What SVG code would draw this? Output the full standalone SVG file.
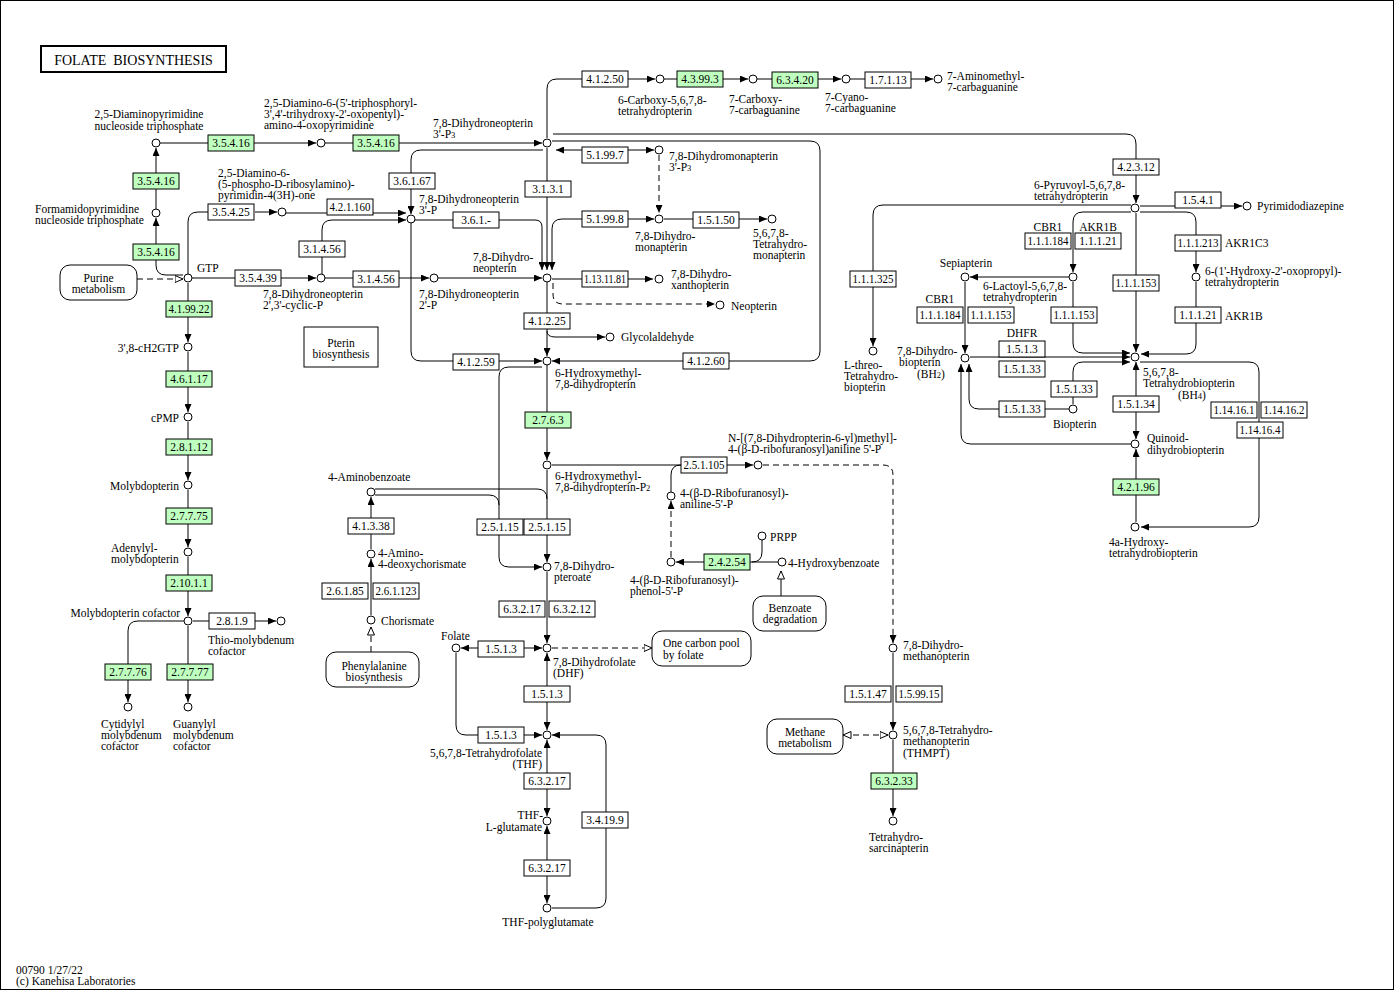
<svg xmlns="http://www.w3.org/2000/svg" width="1395" height="991" viewBox="0 0 1395 991">
<defs>
<style>
text{font-family:"Liberation Serif","Times New Roman",serif;font-size:11.5px;fill:#000}
.ln{fill:none;stroke:#000;stroke-width:1}
.da{stroke-dasharray:6 4}
.enz rect{fill:#fff;stroke:#000;stroke-width:1}
.enz.g rect{fill:#bfffbf}
.enz text{text-anchor:middle}
.cpd circle{fill:#fff;stroke:#000;stroke-width:1}
.map rect{fill:#fff;stroke:#000;stroke-width:1}
.map text{text-anchor:middle}
.sub{font-size:8.5px}
.m{text-anchor:middle}
.e{text-anchor:end}
</style>
<marker id="a" viewBox="0 0 8 7" refX="8" refY="3.5" markerWidth="8" markerHeight="7" markerUnits="userSpaceOnUse" orient="auto-start-reverse"><path d="M0,0L8,3.5L0,7z" fill="#000"/></marker>
<marker id="h" viewBox="0 0 9 8" refX="8.5" refY="4" markerWidth="9" markerHeight="8" markerUnits="userSpaceOnUse" orient="auto-start-reverse"><path d="M0.5,0.5L8.5,4L0.5,7.5z" fill="#fff" stroke="#000"/></marker>
</defs>
<rect x="0.5" y="0.5" width="1393" height="989" fill="#fff" stroke="#000"/>
<g id="title"><rect x="41" y="46" width="185" height="26" fill="#fff" stroke="#000" stroke-width="2"/><text x="133.5" y="65" class="m" style="font-size:14px">FOLATE&#160; BIOSYNTHESIS</text></g>

<g id="connectors">
<path class="ln" d="M156,209V148" marker-end="url(#a)"/>
<path class="ln" d="M183,275H166Q156,275 156,265V218" marker-end="url(#a)"/>
<path class="ln" d="M160,143H316" marker-end="url(#a)"/>
<path class="ln" d="M325,143H542" marker-end="url(#a)"/>
<path class="ln da" d="M137,279H183" marker-end="url(#h)"/>
<path class="ln" d="M188,274V222Q188,212 198,212H208"/>
<path class="ln" d="M255,212H277" marker-end="url(#a)"/>
<path class="ln" d="M286,213H406" marker-end="url(#a)"/>
<path class="ln" d="M322,241V230Q322,220 332,220H406" marker-end="url(#a)"/>
<path class="ln" d="M322,257V274"/>
<path class="ln" d="M192,278H316" marker-end="url(#a)"/>
<path class="ln" d="M325,278H429" marker-end="url(#a)"/>
<path class="ln" d="M438,278H542" marker-end="url(#a)"/>
<path class="ln" d="M543,150H421Q411,150 411,160V173"/>
<path class="ln" d="M411,189V214" marker-end="url(#a)"/>
<path class="ln" d="M415,220H535Q542,220 542,227V270" marker-end="url(#a)"/>
<path class="ln" d="M547,148V270" marker-end="url(#a)"/>
<path class="ln" d="M582,219H562Q552,219 552,229V270" marker-end="url(#a)"/>
<path class="ln" d="M627,219H654" marker-end="url(#a)"/>
<path class="ln" d="M556,150H654" marker-start="url(#a)" marker-end="url(#a)"/>
<path class="ln da" d="M659,155V213" marker-end="url(#a)"/>
<path class="ln" d="M664,219H767" marker-end="url(#a)"/>
<path class="ln" d="M552,279H653" marker-end="url(#a)"/>
<path class="ln da" d="M553,283V294Q553,304 563,304H715" marker-end="url(#a)"/>
<path class="ln" d="M547,282V356" marker-end="url(#a)"/>
<path class="ln" d="M547,331Q547,337 555,337H605" marker-end="url(#a)"/>
<path class="ln" d="M547,138V89Q547,79 557,79H582"/>
<path class="ln" d="M627,79H655" marker-end="url(#a)"/>
<path class="ln" d="M664,79H677"/>
<path class="ln" d="M722,79H748" marker-end="url(#a)"/>
<path class="ln" d="M757,79H772"/>
<path class="ln" d="M818,79H841" marker-end="url(#a)"/>
<path class="ln" d="M850,79H865"/>
<path class="ln" d="M911,79H933" marker-end="url(#a)"/>
<path class="ln" d="M553,134H1126Q1136,134 1136,144V159"/>
<path class="ln" d="M1136,175V203" marker-end="url(#a)"/>
<path class="ln" d="M552,141H810Q820,141 820,151V351Q820,361 810,361H552" marker-end="url(#a)"/>
<path class="ln" d="M411,223V351Q411,361 421,361H542" marker-end="url(#a)"/>
<path class="ln" d="M547,365V460" marker-end="url(#a)"/>
<path class="ln" d="M542,367H509Q499,367 499,377V557Q499,567 509,567H542" marker-end="url(#a)"/>
<path class="ln" d="M547,470V562" marker-end="url(#a)"/>
<path class="ln" d="M375,489H537Q547,489 547,499"/>
<path class="ln" d="M375,495H489Q499,495 499,505"/>
<path class="ln" d="M552,465H753" marker-end="url(#a)"/>
<path class="ln" d="M671,492V475Q671,465 681,465"/>
<path class="ln da" d="M763,465H883Q893,465 893,475V643" marker-end="url(#a)"/>
<path class="ln da" d="M671,557V501" marker-end="url(#a)"/>
<path class="ln" d="M778,562H676" marker-end="url(#a)"/>
<path class="ln" d="M762,540V552Q762,562 752,562"/>
<path class="ln" d="M781,596V571" marker-end="url(#h)"/>
<path class="ln" d="M371,615V559" marker-end="url(#a)"/>
<path class="ln" d="M371,549V497" marker-end="url(#a)"/>
<path class="ln da" d="M371,652V627" marker-end="url(#h)"/>
<path class="ln" d="M547,572V643" marker-end="url(#a)"/>
<path class="ln" d="M461,648H542" marker-start="url(#a)" marker-end="url(#a)"/>
<path class="ln da" d="M552,648H652" marker-end="url(#h)"/>
<path class="ln" d="M547,653V730" marker-start="url(#a)" marker-end="url(#a)"/>
<path class="ln" d="M456,653V725Q456,735 466,735H542" marker-end="url(#a)"/>
<path class="ln" d="M547,740V816" marker-start="url(#a)" marker-end="url(#a)"/>
<path class="ln" d="M547,826V903" marker-start="url(#a)" marker-end="url(#a)"/>
<path class="ln" d="M552,908H596Q606,908 606,898V745Q606,735 596,735H552" marker-end="url(#a)"/>
<path class="ln" d="M893,653V730" marker-end="url(#a)"/>
<path class="ln da" d="M843,735H888" marker-start="url(#h)" marker-end="url(#h)"/>
<path class="ln" d="M893,740V816" marker-end="url(#a)"/>
<path class="ln" d="M188,283V342" marker-end="url(#a)"/>
<path class="ln" d="M188,352V412" marker-end="url(#a)"/>
<path class="ln" d="M188,422V480" marker-end="url(#a)"/>
<path class="ln" d="M188,490V547" marker-end="url(#a)"/>
<path class="ln" d="M188,557V616" marker-end="url(#a)"/>
<path class="ln" d="M193,621H276" marker-end="url(#a)"/>
<path class="ln" d="M188,626V702" marker-end="url(#a)"/>
<path class="ln" d="M184,621H138Q128,621 128,631V702" marker-end="url(#a)"/>
<path class="ln" d="M1131,205H883Q873,205 873,215V346" marker-end="url(#a)"/>
<path class="ln" d="M1131,212H1083Q1073,212 1073,222V272" marker-end="url(#a)"/>
<path class="ln" d="M1140,212H1186Q1196,212 1196,222V272" marker-end="url(#a)"/>
<path class="ln" d="M1136,213V352" marker-end="url(#a)"/>
<path class="ln" d="M1140,206H1242" marker-end="url(#a)"/>
<path class="ln" d="M1069,277H970" marker-end="url(#a)"/>
<path class="ln" d="M1073,282V343Q1073,353 1083,353H1130" marker-end="url(#a)"/>
<path class="ln" d="M965,282V353" marker-end="url(#a)"/>
<path class="ln" d="M970,357H1130" marker-end="url(#a)"/>
<path class="ln" d="M1073,404V372Q1073,362 1083,362H1130" marker-end="url(#a)"/>
<path class="ln" d="M1069,409H979Q969,409 969,399V364" marker-end="url(#a)"/>
<path class="ln" d="M1131,444H971Q961,444 961,434V364" marker-end="url(#a)"/>
<path class="ln" d="M1196,282V344Q1196,354 1186,354H1141" marker-end="url(#a)"/>
<path class="ln" d="M1136,362V439" marker-start="url(#a)" marker-end="url(#a)"/>
<path class="ln" d="M1136,522V449" marker-end="url(#a)"/>
<path class="ln" d="M1140,362H1249Q1259,362 1259,372V517Q1259,527 1249,527H1141" marker-end="url(#a)"/>
</g>

<g id="maps">
<g id="m_purine" class="map"><rect x="60" y="265" width="77" height="35" rx="10"/><text x="98.5" y="282">Purine</text><text x="98.5" y="293">metabolism</text></g>
<g id="m_pterin" class="map"><rect x="304" y="327" width="74" height="40"/><text x="341" y="347">Pterin</text><text x="341" y="358">biosynthesis</text></g>
<g id="m_phe" class="map"><rect x="326" y="652" width="93" height="35" rx="10"/><text x="374" y="670">Phenylalanine</text><text x="374" y="681">biosynthesis</text></g>
<g id="m_onec" class="map"><rect x="652" y="631" width="99" height="35" rx="10"/><text x="663" y="647" style="text-anchor:start">One carbon pool</text><text x="663" y="659" style="text-anchor:start">by folate</text></g>
<g id="m_benz" class="map"><rect x="753" y="596" width="73" height="35" rx="10"/><text x="790" y="612">Benzoate</text><text x="790" y="623">degradation</text></g>
<g id="m_meth" class="map"><rect x="767" y="719" width="76" height="35" rx="10"/><text x="805" y="736">Methane</text><text x="805" y="747">metabolism</text></g>
</g>

<g id="enzymes">
<g id="e1" class="enz g"><rect x="208" y="135" width="46" height="16"/><text x="231" y="147">3.5.4.16</text></g>
<g id="e2" class="enz g"><rect x="353" y="135" width="46" height="16"/><text x="376" y="147">3.5.4.16</text></g>
<g id="e3" class="enz g"><rect x="133" y="173" width="46" height="16"/><text x="156" y="185">3.5.4.16</text></g>
<g id="e4" class="enz g"><rect x="133" y="244" width="46" height="16"/><text x="156" y="256">3.5.4.16</text></g>
<g id="e5" class="enz g"><rect x="166" y="301" width="46" height="16"/><text x="189" y="313" textLength="41" lengthAdjust="spacingAndGlyphs">4.1.99.22</text></g>
<g id="e6" class="enz g"><rect x="166" y="371" width="46" height="16"/><text x="189" y="383">4.6.1.17</text></g>
<g id="e7" class="enz g"><rect x="166" y="439" width="46" height="16"/><text x="189" y="451">2.8.1.12</text></g>
<g id="e8" class="enz g"><rect x="166" y="508" width="46" height="16"/><text x="189" y="520">2.7.7.75</text></g>
<g id="e9" class="enz g"><rect x="166" y="575" width="46" height="16"/><text x="189" y="587">2.10.1.1</text></g>
<g id="e10" class="enz g"><rect x="105" y="664" width="46" height="16"/><text x="128" y="676">2.7.7.76</text></g>
<g id="e11" class="enz g"><rect x="167" y="664" width="46" height="16"/><text x="190" y="676">2.7.7.77</text></g>
<g id="e12" class="enz"><rect x="208" y="204" width="46" height="16"/><text x="231" y="216">3.5.4.25</text></g>
<g id="e13" class="enz"><rect x="327" y="199" width="46" height="16"/><text x="350" y="211" textLength="41" lengthAdjust="spacingAndGlyphs">4.2.1.160</text></g>
<g id="e14" class="enz"><rect x="299" y="241" width="46" height="16"/><text x="322" y="253">3.1.4.56</text></g>
<g id="e15" class="enz"><rect x="235" y="270" width="46" height="16"/><text x="258" y="282">3.5.4.39</text></g>
<g id="e16" class="enz"><rect x="353" y="271" width="46" height="16"/><text x="376" y="283">3.1.4.56</text></g>
<g id="e17" class="enz"><rect x="389" y="173" width="46" height="16"/><text x="412" y="185">3.6.1.67</text></g>
<g id="e18" class="enz"><rect x="453" y="212" width="46" height="16"/><text x="476" y="224">3.6.1.-</text></g>
<g id="e19" class="enz"><rect x="525" y="181" width="46" height="16"/><text x="548" y="193">3.1.3.1</text></g>
<g id="e20" class="enz"><rect x="582" y="71" width="46" height="16"/><text x="605" y="83">4.1.2.50</text></g>
<g id="e21" class="enz g"><rect x="677" y="71" width="46" height="16"/><text x="700" y="83">4.3.99.3</text></g>
<g id="e22" class="enz g"><rect x="772" y="72" width="46" height="16"/><text x="795" y="84">6.3.4.20</text></g>
<g id="e23" class="enz"><rect x="865" y="72" width="46" height="16"/><text x="888" y="84">1.7.1.13</text></g>
<g id="e24" class="enz"><rect x="582" y="147" width="46" height="16"/><text x="605" y="159">5.1.99.7</text></g>
<g id="e25" class="enz"><rect x="582" y="211" width="46" height="16"/><text x="605" y="223">5.1.99.8</text></g>
<g id="e26" class="enz"><rect x="693" y="212" width="46" height="16"/><text x="716" y="224">1.5.1.50</text></g>
<g id="e27" class="enz"><rect x="582" y="271" width="46" height="16"/><text x="605" y="283" textLength="42" lengthAdjust="spacingAndGlyphs">1.13.11.81</text></g>
<g id="e28" class="enz"><rect x="524" y="313" width="46" height="16"/><text x="547" y="325">4.1.2.25</text></g>
<g id="e29" class="enz"><rect x="453" y="354" width="46" height="16"/><text x="476" y="366">4.1.2.59</text></g>
<g id="e30" class="enz"><rect x="683" y="353" width="46" height="16"/><text x="706" y="365">4.1.2.60</text></g>
<g id="e31" class="enz g"><rect x="525" y="412" width="46" height="16"/><text x="548" y="424">2.7.6.3</text></g>
<g id="e32" class="enz"><rect x="681" y="457" width="46" height="16"/><text x="704" y="469" textLength="41" lengthAdjust="spacingAndGlyphs">2.5.1.105</text></g>
<g id="e33" class="enz"><rect x="348" y="518" width="46" height="16"/><text x="371" y="530">4.1.3.38</text></g>
<g id="e34" class="enz"><rect x="477" y="519" width="46" height="16"/><text x="500" y="531">2.5.1.15</text></g>
<g id="e35" class="enz"><rect x="524" y="519" width="46" height="16"/><text x="547" y="531">2.5.1.15</text></g>
<g id="e36" class="enz"><rect x="322" y="583" width="46" height="16"/><text x="345" y="595">2.6.1.85</text></g>
<g id="e37" class="enz"><rect x="373" y="583" width="46" height="16"/><text x="396" y="595" textLength="41" lengthAdjust="spacingAndGlyphs">2.6.1.123</text></g>
<g id="e38" class="enz"><rect x="499" y="601" width="46" height="16"/><text x="522" y="613">6.3.2.17</text></g>
<g id="e39" class="enz"><rect x="549" y="601" width="46" height="16"/><text x="572" y="613">6.3.2.12</text></g>
<g id="e40" class="enz g"><rect x="704" y="554" width="46" height="16"/><text x="727" y="566">2.4.2.54</text></g>
<g id="e41" class="enz"><rect x="478" y="641" width="46" height="16"/><text x="501" y="653">1.5.1.3</text></g>
<g id="e42" class="enz"><rect x="524" y="686" width="46" height="16"/><text x="547" y="698">1.5.1.3</text></g>
<g id="e43" class="enz"><rect x="478" y="727" width="46" height="16"/><text x="501" y="739">1.5.1.3</text></g>
<g id="e44" class="enz"><rect x="524" y="773" width="46" height="16"/><text x="547" y="785">6.3.2.17</text></g>
<g id="e45" class="enz"><rect x="582" y="812" width="46" height="16"/><text x="605" y="824">3.4.19.9</text></g>
<g id="e46" class="enz"><rect x="524" y="860" width="46" height="16"/><text x="547" y="872">6.3.2.17</text></g>
<g id="e47" class="enz"><rect x="845" y="686" width="46" height="16"/><text x="868" y="698">1.5.1.47</text></g>
<g id="e48" class="enz"><rect x="896" y="686" width="46" height="16"/><text x="919" y="698" textLength="41" lengthAdjust="spacingAndGlyphs">1.5.99.15</text></g>
<g id="e49" class="enz g"><rect x="871" y="773" width="46" height="16"/><text x="894" y="785">6.3.2.33</text></g>
<g id="e50" class="enz"><rect x="209" y="613" width="46" height="16"/><text x="232" y="625">2.8.1.9</text></g>
<g id="e51" class="enz"><rect x="1113" y="159" width="46" height="16"/><text x="1136" y="171">4.2.3.12</text></g>
<g id="e52" class="enz"><rect x="1175" y="192" width="46" height="16"/><text x="1198" y="204">1.5.4.1</text></g>
<g id="e53" class="enz"><rect x="1025" y="233" width="46" height="16"/><text x="1048" y="245" textLength="41" lengthAdjust="spacingAndGlyphs">1.1.1.184</text></g>
<g id="e54" class="enz"><rect x="1075" y="233" width="46" height="16"/><text x="1098" y="245">1.1.1.21</text></g>
<g id="e55" class="enz"><rect x="1175" y="235" width="46" height="16"/><text x="1198" y="247" textLength="41" lengthAdjust="spacingAndGlyphs">1.1.1.213</text></g>
<g id="e56" class="enz"><rect x="1113" y="275" width="46" height="16"/><text x="1136" y="287" textLength="41" lengthAdjust="spacingAndGlyphs">1.1.1.153</text></g>
<g id="e57" class="enz"><rect x="1051" y="307" width="46" height="16"/><text x="1074" y="319" textLength="41" lengthAdjust="spacingAndGlyphs">1.1.1.153</text></g>
<g id="e58" class="enz"><rect x="1175" y="307" width="46" height="16"/><text x="1198" y="319">1.1.1.21</text></g>
<g id="e59" class="enz"><rect x="850" y="271" width="46" height="16"/><text x="873" y="283" textLength="41" lengthAdjust="spacingAndGlyphs">1.1.1.325</text></g>
<g id="e60" class="enz"><rect x="917" y="307" width="46" height="16"/><text x="940" y="319" textLength="41" lengthAdjust="spacingAndGlyphs">1.1.1.184</text></g>
<g id="e61" class="enz"><rect x="968" y="307" width="46" height="16"/><text x="991" y="319" textLength="41" lengthAdjust="spacingAndGlyphs">1.1.1.153</text></g>
<g id="e62" class="enz"><rect x="999" y="341" width="46" height="16"/><text x="1022" y="353">1.5.1.3</text></g>
<g id="e63" class="enz"><rect x="999" y="361" width="46" height="16"/><text x="1022" y="373">1.5.1.33</text></g>
<g id="e64" class="enz"><rect x="1051" y="381" width="46" height="16"/><text x="1074" y="393">1.5.1.33</text></g>
<g id="e65" class="enz"><rect x="999" y="401" width="46" height="16"/><text x="1022" y="413">1.5.1.33</text></g>
<g id="e66" class="enz"><rect x="1113" y="396" width="46" height="16"/><text x="1136" y="408">1.5.1.34</text></g>
<g id="e67" class="enz"><rect x="1211" y="402" width="46" height="16"/><text x="1234" y="414" textLength="41" lengthAdjust="spacingAndGlyphs">1.14.16.1</text></g>
<g id="e68" class="enz"><rect x="1261" y="402" width="46" height="16"/><text x="1284" y="414" textLength="41" lengthAdjust="spacingAndGlyphs">1.14.16.2</text></g>
<g id="e69" class="enz"><rect x="1237" y="422" width="46" height="16"/><text x="1260" y="434" textLength="41" lengthAdjust="spacingAndGlyphs">1.14.16.4</text></g>
<g id="e70" class="enz g"><rect x="1113" y="479" width="46" height="16"/><text x="1136" y="491">4.2.1.96</text></g>
</g>

<g id="genes">
<text x="1048" y="231" class="m">CBR1</text>
<text x="1098" y="231" class="m">AKR1B</text>
<text x="1225" y="247">AKR1C3</text>
<text x="1225" y="320">AKR1B</text>
<text x="940" y="303" class="m">CBR1</text>
<text x="1022" y="337" class="m">DHFR</text>
</g>

<g id="compounds">
<g id="n_dapy" class="cpd"><circle cx="156" cy="143" r="4"/><text x="149" y="118" class="m">2,5-Diaminopyrimidine</text><text x="149" y="130" class="m">nucleoside triphosphate</text></g>
<g id="n_dtpo" class="cpd"><circle cx="321" cy="143" r="4"/><text x="264" y="107">2,5-Diamino-6-(5'-triphosphoryl-</text><text x="264" y="118">3',4'-trihydroxy-2'-oxopentyl)-</text><text x="264" y="129">amino-4-oxopyrimidine</text></g>
<g id="n_dnp3" class="cpd"><circle cx="547" cy="143" r="4"/><text x="433" y="127">7,8-Dihydroneopterin</text><text x="433" y="138">3'-P<tspan class="sub">3</tspan></text></g>
<g id="n_famp" class="cpd"><circle cx="156" cy="213" r="4"/><text x="35" y="213">Formamidopyrimidine</text><text x="35" y="224">nucleoside triphosphate</text></g>
<g id="n_gtp" class="cpd"><circle cx="188" cy="278" r="4"/><text x="197" y="272">GTP</text></g>
<g id="n_dapr" class="cpd"><circle cx="282" cy="212" r="4"/><text x="218" y="177">2,5-Diamino-6-</text><text x="218" y="188">(5-phospho-D-ribosylamino)-</text><text x="218" y="199">pyrimidin-4(3H)-one</text></g>
<g id="n_dncp" class="cpd"><circle cx="321" cy="278" r="4"/><text x="263" y="298">7,8-Dihydroneopterin</text><text x="263" y="309">2',3'-cyclic-P</text></g>
<g id="n_dn3p" class="cpd"><circle cx="411" cy="219" r="4"/><text x="419" y="203">7,8-Dihydroneopterin</text><text x="419" y="214">3'-P</text></g>
<g id="n_dn2p" class="cpd"><circle cx="434" cy="278" r="4"/><text x="419" y="298">7,8-Dihydroneopterin</text><text x="419" y="309">2'-P</text></g>
<g id="n_dn" class="cpd"><circle cx="547" cy="278" r="4"/><text x="473" y="261">7,8-Dihydro-</text><text x="473" y="272">neopterin</text></g>
<g id="n_dmp3" class="cpd"><circle cx="659" cy="150" r="4"/><text x="669" y="160">7,8-Dihydromonapterin</text><text x="669" y="171">3'-P<tspan class="sub">3</tspan></text></g>
<g id="n_dm" class="cpd"><circle cx="659" cy="219" r="4"/><text x="635" y="240">7,8-Dihydro-</text><text x="635" y="251">monapterin</text></g>
<g id="n_thm" class="cpd"><circle cx="772" cy="219" r="4"/><text x="753" y="237">5,6,7,8-</text><text x="753" y="248">Tetrahydro-</text><text x="753" y="259">monapterin</text></g>
<g id="n_dxp" class="cpd"><circle cx="659" cy="279" r="4"/><text x="671" y="278">7,8-Dihydro-</text><text x="671" y="289">xanthopterin</text></g>
<g id="n_neo" class="cpd"><circle cx="720" cy="305" r="4"/><text x="731" y="310">Neopterin</text></g>
<g id="n_gly" class="cpd"><circle cx="610" cy="337" r="4"/><text x="621" y="341">Glycolaldehyde</text></g>
<g id="n_hmd" class="cpd"><circle cx="547" cy="361" r="4"/><text x="555" y="377">6-Hydroxymethyl-</text><text x="555" y="388">7,8-dihydropterin</text></g>
<g id="n_cthp" class="cpd"><circle cx="660" cy="79" r="4"/><text x="618" y="104">6-Carboxy-5,6,7,8-</text><text x="618" y="115">tetrahydropterin</text></g>
<g id="n_ccg" class="cpd"><circle cx="753" cy="79" r="4"/><text x="729" y="103">7-Carboxy-</text><text x="729" y="114">7-carbaguanine</text></g>
<g id="n_cyg" class="cpd"><circle cx="846" cy="79" r="4"/><text x="825" y="101">7-Cyano-</text><text x="825" y="112">7-carbaguanine</text></g>
<g id="n_amg" class="cpd"><circle cx="938" cy="79" r="4"/><text x="947" y="80">7-Aminomethyl-</text><text x="947" y="91">7-carbaguanine</text></g>
<g id="n_hmp2" class="cpd"><circle cx="547" cy="465" r="4"/><text x="555" y="480">6-Hydroxymethyl-</text><text x="555" y="491">7,8-dihydropterin-P<tspan class="sub">2</tspan></text></g>
<g id="n_pab" class="cpd"><circle cx="371" cy="492" r="4"/><text x="328" y="481">4-Aminobenzoate</text></g>
<g id="n_adc" class="cpd"><circle cx="371" cy="554" r="4"/><text x="378" y="557">4-Amino-</text><text x="378" y="568">4-deoxychorismate</text></g>
<g id="n_cho" class="cpd"><circle cx="371" cy="620" r="4"/><text x="381" y="625">Chorismate</text></g>
<g id="n_dhp" class="cpd"><circle cx="547" cy="567" r="4"/><text x="554" y="570">7,8-Dihydro-</text><text x="554" y="581">pteroate</text></g>
<g id="n_ndp" class="cpd"><circle cx="758" cy="465" r="4"/><text x="728" y="442">N-[(7,8-Dihydropterin-6-yl)methyl]-</text><text x="728" y="453">4-(β-D-ribofuranosyl)aniline 5'-P</text></g>
<g id="n_rap" class="cpd"><circle cx="671" cy="496" r="4"/><text x="680" y="497">4-(β-D-Ribofuranosyl)-</text><text x="680" y="508">aniline-5'-P</text></g>
<g id="n_rpp" class="cpd"><circle cx="671" cy="562" r="4"/><text x="630" y="584">4-(β-D-Ribofuranosyl)-</text><text x="630" y="595">phenol-5'-P</text></g>
<g id="n_prpp" class="cpd"><circle cx="762" cy="536" r="4"/><text x="770" y="541">PRPP</text></g>
<g id="n_hba" class="cpd"><circle cx="782" cy="562" r="4"/><text x="788" y="567">4-Hydroxybenzoate</text></g>
<g id="n_fol" class="cpd"><circle cx="456" cy="648" r="4"/><text x="441" y="640">Folate</text></g>
<g id="n_dhf" class="cpd"><circle cx="547" cy="648" r="4"/><text x="553" y="666">7,8-Dihydrofolate</text><text x="553" y="677">(DHF)</text></g>
<g id="n_thf" class="cpd"><circle cx="547" cy="735" r="4"/><text x="542" y="757" class="e">5,6,7,8-Tetrahydrofolate</text><text x="542" y="768" class="e">(THF)</text></g>
<g id="n_thfg" class="cpd"><circle cx="547" cy="821" r="4"/><text x="543" y="819" class="e">THF-</text><text x="542" y="831" class="e">L-glutamate</text></g>
<g id="n_thfp" class="cpd"><circle cx="547" cy="908" r="4"/><text x="548" y="926" class="m">THF-polyglutamate</text></g>
<g id="n_dmpt" class="cpd"><circle cx="893" cy="648" r="4"/><text x="903" y="649">7,8-Dihydro-</text><text x="903" y="660">methanopterin</text></g>
<g id="n_thmpt" class="cpd"><circle cx="893" cy="735" r="4"/><text x="903" y="734">5,6,7,8-Tetrahydro-</text><text x="903" y="745">methanopterin</text><text x="903" y="757">(THMPT)</text></g>
<g id="n_ths" class="cpd"><circle cx="893" cy="821" r="4"/><text x="869" y="841">Tetrahydro-</text><text x="869" y="852">sarcinapterin</text></g>
<g id="n_ch2gtp" class="cpd"><circle cx="188" cy="347" r="4"/><text x="179" y="352" class="e">3',8-cH2GTP</text></g>
<g id="n_cpmp" class="cpd"><circle cx="188" cy="417" r="4"/><text x="179" y="422" class="e">cPMP</text></g>
<g id="n_mpt" class="cpd"><circle cx="188" cy="485" r="4"/><text x="179" y="490" class="e">Molybdopterin</text></g>
<g id="n_ampt" class="cpd"><circle cx="188" cy="552" r="4"/><text x="111" y="552">Adenylyl-</text><text x="111" y="563">molybdopterin</text></g>
<g id="n_moco" class="cpd"><circle cx="188" cy="621" r="4"/><text x="180" y="617" class="e">Molybdopterin cofactor</text></g>
<g id="n_thio" class="cpd"><circle cx="281" cy="621" r="4"/><text x="208" y="644">Thio-molybdenum</text><text x="208" y="655">cofactor</text></g>
<g id="n_cmc" class="cpd"><circle cx="128" cy="707" r="4"/><text x="101" y="728">Cytidylyl</text><text x="101" y="739">molybdenum</text><text x="101" y="750">cofactor</text></g>
<g id="n_gmc" class="cpd"><circle cx="188" cy="707" r="4"/><text x="173" y="728">Guanylyl</text><text x="173" y="739">molybdenum</text><text x="173" y="750">cofactor</text></g>
<g id="n_ppt" class="cpd"><circle cx="1135" cy="208" r="4"/><text x="1034" y="189">6-Pyruvoyl-5,6,7,8-</text><text x="1034" y="200">tetrahydropterin</text></g>
<g id="n_pdz" class="cpd"><circle cx="1247" cy="206" r="4"/><text x="1257" y="210">Pyrimidodiazepine</text></g>
<g id="n_lac" class="cpd"><circle cx="1073" cy="277" r="4"/><text x="983" y="290">6-Lactoyl-5,6,7,8-</text><text x="983" y="301">tetrahydropterin</text></g>
<g id="n_hop" class="cpd"><circle cx="1196" cy="277" r="4"/><text x="1205" y="275">6-(1'-Hydroxy-2'-oxopropyl)-</text><text x="1205" y="286">tetrahydropterin</text></g>
<g id="n_sep" class="cpd"><circle cx="965" cy="277" r="4"/><text x="966" y="267" class="m">Sepiapterin</text></g>
<g id="n_ltb" class="cpd"><circle cx="873" cy="351" r="4"/><text x="844" y="369">L-threo-</text><text x="844" y="380">Tetrahydro-</text><text x="844" y="391">biopterin</text></g>
<g id="n_bh2" class="cpd"><circle cx="965" cy="358" r="4"/><text x="897" y="355">7,8-Dihydro-</text><text x="899" y="366">biopterin</text><text x="917" y="378">(BH<tspan class="sub">2</tspan>)</text></g>
<g id="n_bh4" class="cpd"><circle cx="1135" cy="357" r="4"/><text x="1143" y="376">5,6,7,8-</text><text x="1143" y="387">Tetrahydrobiopterin</text><text x="1178" y="399">(BH<tspan class="sub">4</tspan>)</text></g>
<g id="n_bio" class="cpd"><circle cx="1073" cy="409" r="4"/><text x="1053" y="428">Biopterin</text></g>
<g id="n_qdb" class="cpd"><circle cx="1135" cy="444" r="4"/><text x="1147" y="442">Quinoid-</text><text x="1147" y="454">dihydrobiopterin</text></g>
<g id="n_hthb" class="cpd"><circle cx="1135" cy="527" r="4"/><text x="1109" y="546">4a-Hydroxy-</text><text x="1109" y="557">tetrahydrobiopterin</text></g>
</g>

<g id="footer"><text x="16" y="974">00790 1/27/22</text><text x="16" y="985">(c) Kanehisa Laboratories</text></g>
</svg>
